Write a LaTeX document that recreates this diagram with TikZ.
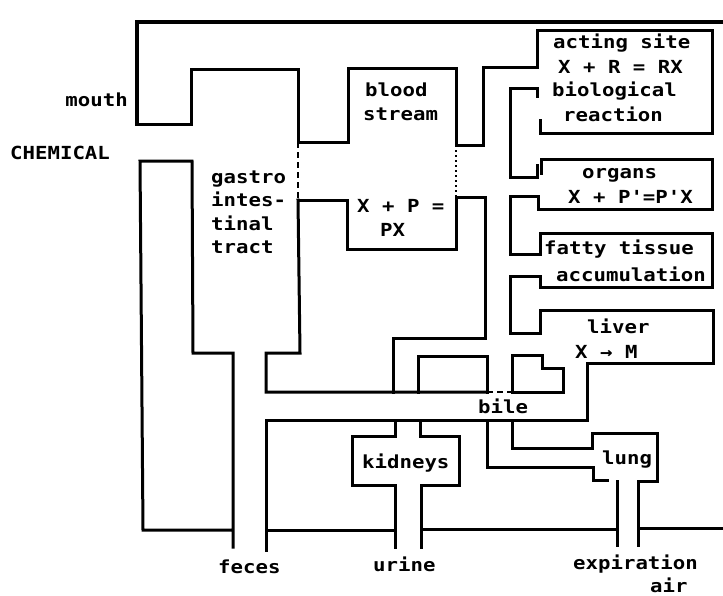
\documentclass[tikz,border=0pt]{standalone}
\usepackage{fontspec}
\newfontfamily\dmono[FakeStretch=1.15]{DejaVu Sans Mono Bold}
\begin{document}
\begin{tikzpicture}[x=1pt,y=-1pt,
  wall/.style={line width=3pt,line join=miter,line cap=rect},
  dashwall/.style={line width=2.7pt,dash pattern=on 6pt off 4pt},
  dotwall/.style={line width=2.5pt,dash pattern=on 2pt off 3pt},
  lbl/.style={font=\dmono\fontsize{18}{20}\selectfont,inner sep=0pt,anchor=base west}]
\useasboundingbox[fill=white] (0,0) rectangle (723,595);

% outer wall, mouth, blood stream top, acting site
\draw[wall,line width=3.6pt] (137,124) -- (137,22) -- (723,22);
\draw[wall] (137,124) -- (191,124) -- (191,69) -- (298,69)
  -- (298,142) -- (348,142) -- (348,68) -- (456,68) -- (456,145) -- (483,145)
  -- (483,67) -- (537,67) -- (537,30) -- (712,30) -- (712,133) -- (540,133) -- (540,120);
\draw[dashwall] (298,142) -- (298,200);
\draw[dotwall] (456,145) -- (456,197);

% gastro-intestinal right wall and upper bile line
\draw[wall] (298,200) -- (300,353) -- (266,353) -- (266,392) -- (487,392);
\draw[dashwall] (487,392) -- (512,392);
\draw[wall] (512,392) -- (563,392) -- (563,368) -- (542,368) -- (542,355) -- (512,355) -- (512,392);

% blood box lower part and channel to kidneys
\draw[wall] (298,200) -- (347,200) -- (347,249) -- (456,249) -- (456,197) -- (485,197)
  -- (485,338) -- (393,338) -- (393,392);
\draw[wall] (418,392) -- (418,356) -- (487,356) -- (487,392);

% pockets and organ boxes
\draw[wall] (537,96) -- (537,88) -- (510,88) -- (510,177) -- (537,177) -- (537,165);
\draw[wall] (541,173) -- (541,159) -- (712,159) -- (712,209) -- (538,209) -- (538,196)
  -- (510,196) -- (510,254) -- (540,254) -- (540,233) -- (712,233) -- (712,287)
  -- (540,287) -- (540,276) -- (510,276) -- (510,333) -- (540,333) -- (540,310)
  -- (713,310) -- (713,363) -- (587,363) -- (587,420) -- (266,420) -- (266,550);

% kidneys
\draw[wall] (395,420) -- (395,436) -- (352,436) -- (352,485) -- (395,485) -- (395,547);
\draw[wall] (420,420) -- (420,436) -- (459,436) -- (459,485) -- (421,485) -- (421,547);

% bottom line
\draw[wall] (266,530) -- (395,530);
\draw[wall] (421,529) -- (617,529);
\draw[wall] (638,528) -- (723,528);

% lung
\draw[wall] (487,420) -- (487,467) -- (593,467) -- (593,480) -- (607,480);
\draw[wall] (512,420) -- (512,448) -- (592,448) -- (592,433) -- (657,433) -- (657,481)
  -- (638,481) -- (638,545);
\draw[wall] (617,481) -- (617,545);

% left column
\draw[wall] (233,530) -- (143,530) -- (140,161) -- (192,161) -- (193,353) -- (233,353) -- (233,547);

% labels
\node[lbl,anchor=base east] (mouth) at (128,106) {mouth};
\node[lbl] (chem) at (10,159) {CHEMICAL};
\node[lbl] (g1) at (211,183) {gastro};
\node[lbl] (g2) at (211,206) {intes-};
\node[lbl] (g3) at (211,230) {tinal};
\node[lbl] (g4) at (211,253) {tract};
\node[lbl] (b1) at (365,96) {blood};
\node[lbl] (b2) at (363,120) {stream};
\node[lbl] (b3) at (357,212) {X + P =};
\node[lbl] (b4) at (380,236) {PX};
\node[lbl] (a1) at (553,48) {acting site};
\node[lbl] (a2) at (558,73) {X + R = RX};
\node[lbl] (a3) at (552,96) {biological};
\node[lbl] (a4) at (563,121) {reaction};
\node[lbl] (o1) at (582,178) {organs};
\node[lbl] (o2) at (568,203) {X + P'=P'X};
\node[lbl] (f1) at (544,254) {fatty tissue};
\node[lbl] (f2) at (556,281) {accumulation};
\node[lbl] (l1) at (587,333) {liver};
\node[lbl] (l2) at (575,358) {X  →  M};
\node[lbl] (bile) at (478,413) {bile};
\node[lbl] (kid) at (362,468) {kidneys};
\node[lbl] (lung) at (602,464) {lung};
\node[lbl] (fec) at (218,573) {feces};
\node[lbl] (uri) at (373,571) {urine};
\node[lbl] (exp) at (573,569) {expiration};
\node[lbl] (air) at (650,592) {air};
\end{tikzpicture}
\end{document}
